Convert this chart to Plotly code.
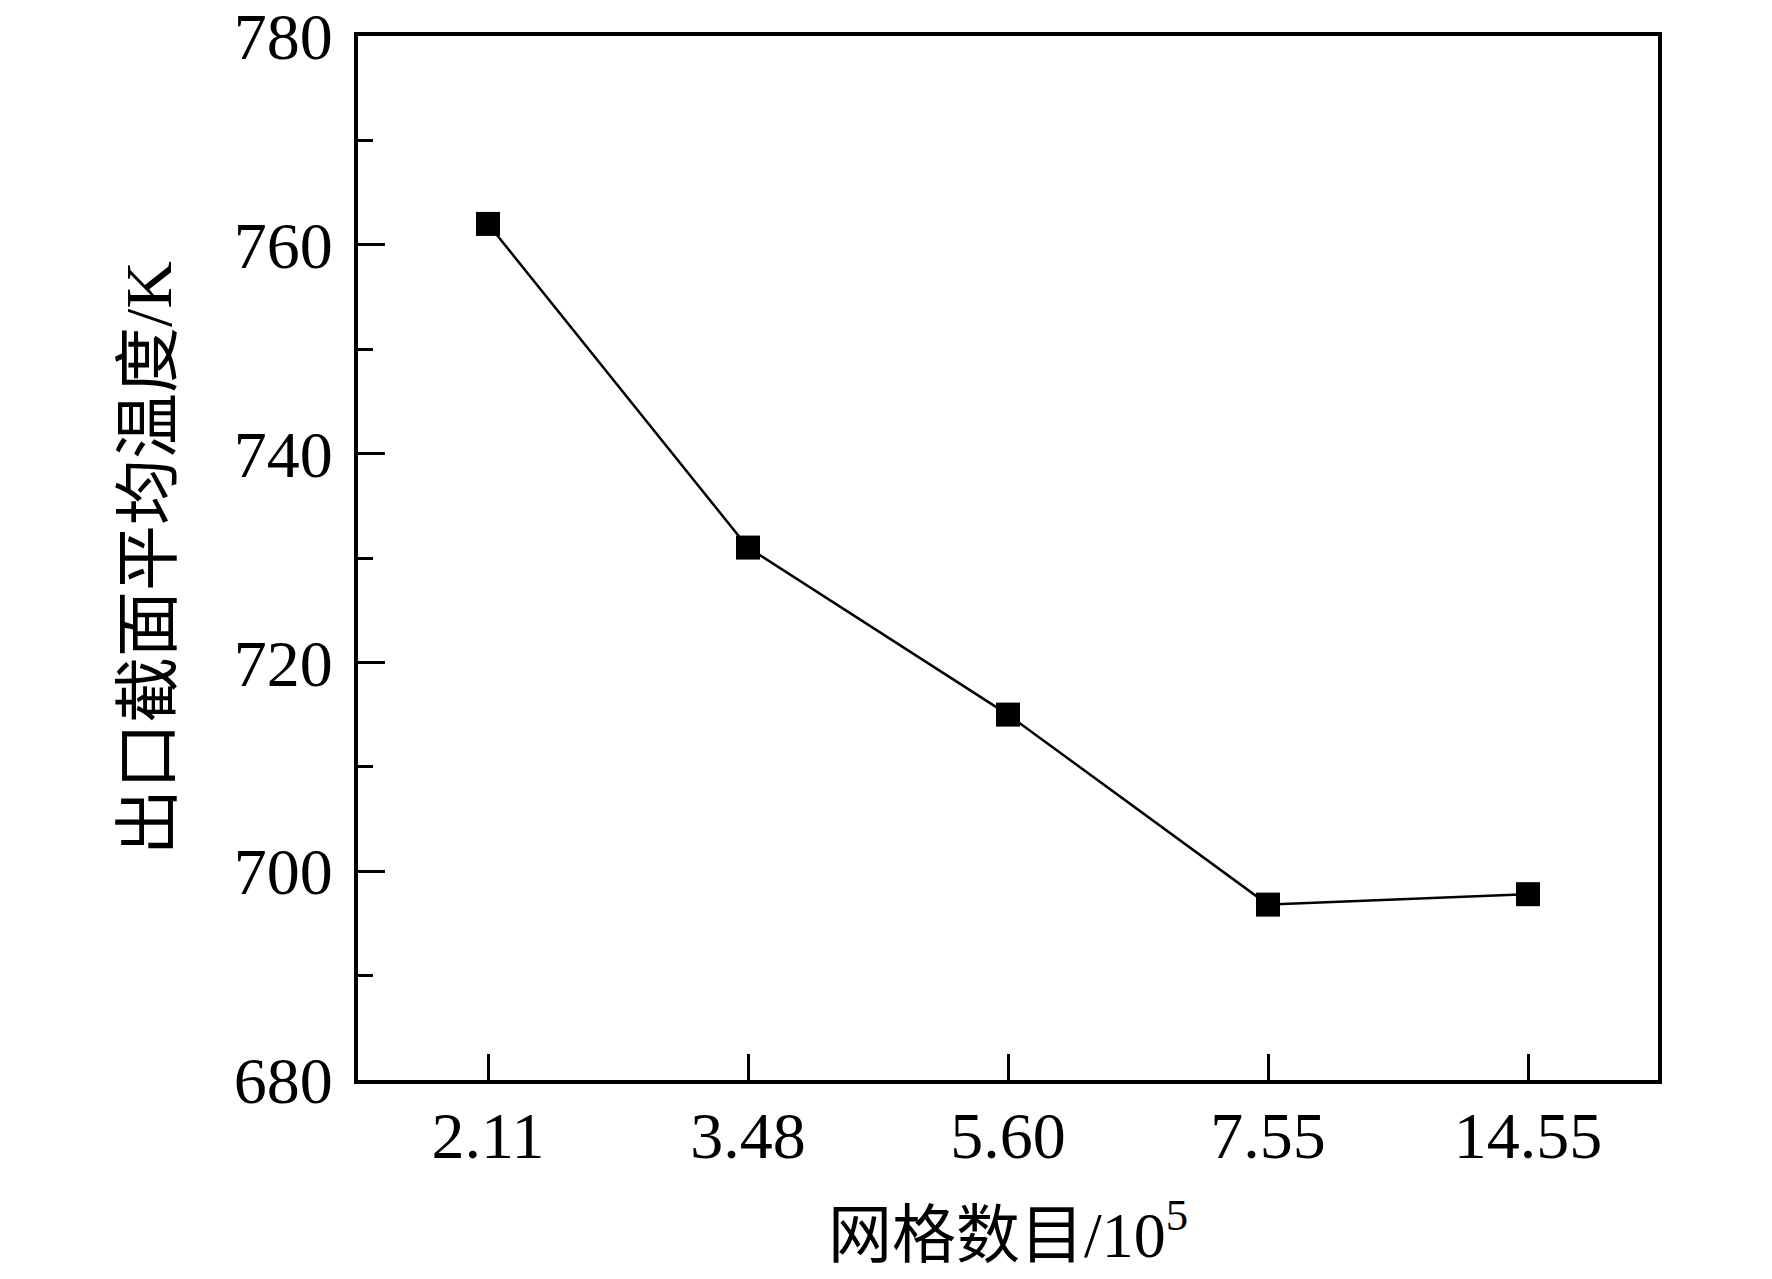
import plotly.graph_objects as go

# grid count (x10^5) vs. mean outlet temperature
grid_labels = ["2.11", "3.48", "5.60", "7.55", "14.55"]
outlet_temp = [762.0, 731.0, 715.0, 696.8, 697.8]

y_ticks = [680, 700, 720, 740, 760, 780]

font_main = "Liberation Serif, Times New Roman, Noto Sans CJK SC, serif"

fig = go.Figure()
fig.add_trace(go.Scatter(
    x=grid_labels,
    y=outlet_temp,
    mode="lines+markers",
    line=dict(color="black", width=2.5),
    marker=dict(symbol="square", size=24, color="black"),
    showlegend=False,
))

# page body has an 8px margin, so the figure is a bit smaller than the window
fig.update_layout(
    width=1756,
    height=1263,
    margin=dict(l=350, r=106, t=28, b=191),
    paper_bgcolor="white",
    plot_bgcolor="white",
    font=dict(family=font_main, size=66, color="black"),
)

fig.update_xaxes(
    type="category",
    range=[-0.5, 4.5],
    automargin=False,
    showline=True, linecolor="black", linewidth=4, mirror=True,
    ticks="inside", ticklen=26, tickwidth=3, tickcolor="black",
    showgrid=False, zeroline=False,
    tickfont=dict(size=66),
    ticklabelstandoff=-5,
    title=dict(text="网格数目/10<sup>5</sup>", font=dict(size=64), standoff=44),
)

fig.update_yaxes(
    range=[680, 780],
    tickvals=y_ticks,
    automargin=False,
    showline=True, linecolor="black", linewidth=4, mirror=True,
    ticks="inside", ticklen=27, tickwidth=3, tickcolor="black",
    minor=dict(dtick=10, ticks="inside", ticklen=15, tickwidth=3, tickcolor="black"),
    showgrid=False, zeroline=False,
    tickfont=dict(size=66),
    ticklabelstandoff=8,
    ticklabeloverflow="allow",
    title=dict(text="出口截面平均温度/K", font=dict(size=66), standoff=42),
)

fig.write_html("out.html")
